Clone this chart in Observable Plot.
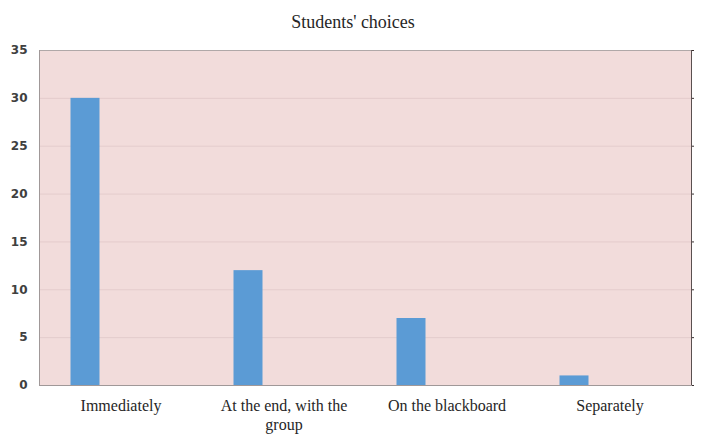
<!DOCTYPE html>
<html>
<head>
<meta charset="utf-8">
<script src="https://cdn.jsdelivr.net/npm/d3@7"></script>
<script src="https://cdn.jsdelivr.net/npm/@observablehq/plot@0.6"></script>
<style>
  html, body { margin: 0; padding: 0; background: #ffffff; }
  #title { height: 40px; line-height: 44px; text-align: center; font-family: "Liberation Serif", "Times New Roman", serif; font-size: 18px; color: #262626; width: 706px; }
</style>
</head>
<body>
<div id="title">Students' choices</div>
<div id="chart"></div>
<script>
const categories = ["Immediately", "At the end, with the group", "On the blackboard", "Separately"];
const values = [30, 12, 7, 1];
const yTicks = [0, 5, 10, 15, 20, 25, 30, 35];

const data = categories.map((c, i) => ({category: c, value: values[i]}));

const chart = Plot.plot({
  width: 706,
  height: 399,
  marginTop: 10,
  marginBottom: 54,
  marginLeft: 39,
  marginRight: 15,
  x: {domain: categories, padding: 0},
  y: {domain: [0, 35]},
  style: {background: "transparent"},
  marks: [
    Plot.frame({fill: "#f2dcdb", stroke: null}),
    Plot.gridY(yTicks, {stroke: "#e4cccc", strokeOpacity: 1}),
    Plot.barY(data, {x: "category", y: "value", fill: "#5b9bd5", insetLeft: 31.5, insetRight: 102.5}),
    Plot.frame({anchor: "top", stroke: "#b0a8a8"}),
    Plot.frame({anchor: "left", stroke: "#a09898"}),
    Plot.frame({anchor: "right", stroke: "#5a5050"}),
    Plot.frame({anchor: "bottom", stroke: "#a09898"}),
    Plot.axisY(yTicks, {anchor: "right", tickSize: 2, stroke: "#3a3030", text: null, label: null}),
    Plot.axisY(yTicks, {anchor: "left", tickSize: 0, tickPadding: 12, fontFamily: "DejaVu Sans", fontWeight: "bold", fontSize: 12, fill: "#404040", label: null}),
    Plot.axisX({tickSize: 0, tickPadding: 12, fontFamily: "Liberation Serif", fontSize: 16, fill: "#262626", lineWidth: 9.5, lineHeight: 1.2, label: null})
  ]
});
document.getElementById("chart").appendChild(chart);
</script>
</body>
</html>
